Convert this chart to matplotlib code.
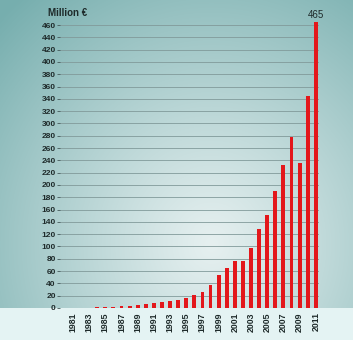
import matplotlib
matplotlib.use("Agg")
import matplotlib.pyplot as plt
import numpy as np

# Revenue per year, million euro
years = list(range(1981, 2012))
values = [0.3, 0.5, 0.8, 1.2, 1.8, 2.3, 2.8, 3.8, 5.3, 6.5,
          7.6, 10.5, 11.5, 13, 16.8, 21.5, 26.5, 38, 54, 65.5,
          77, 77, 97.5, 129, 152, 190, 232, 278, 235, 345, 465]
tick_years = years[::2]
y_ticks = list(range(0, 461, 20))

W, H = 353, 340
fig = plt.figure(figsize=(W / 100, H / 100), dpi=100)

# background: teal, darker on the left and top, lighter near the middle
bg = fig.add_axes([0, 0, 1, 1])
xx, yy = np.meshgrid(np.linspace(0, 1, W), np.linspace(0, 1, H))
d = np.sqrt(((xx - 0.6) / 0.85) ** 2 + ((yy - 0.72) / 0.95) ** 2)
d = np.clip(d, 0, 1)
dark = np.array([118, 174, 174]) / 255
light = np.array([230, 240, 240]) / 255
img = light + (dark - light) * d[..., None] ** 1.1
band = yy > 308 / H
img[band] = np.array([228, 243, 243]) / 255
bg.imshow(img, aspect="auto", extent=[0, 1, 0, 1], origin="upper")
bg.axis("off")

ax = fig.add_axes([60 / W, 32 / H, 259 / W, 289.1 / H])
ax.patch.set_alpha(0)
ax.bar(years, values, width=0.48, color="#e3171b", zorder=3)
ax.set_xlim(1979.4, 2011.4)
ax.set_ylim(0, 470)

ax.set_yticks(y_ticks)
ax.set_yticklabels([str(v) for v in y_ticks], fontsize=6, fontweight="bold",
                   color="#1e2a2a", family="Liberation Sans")
ax.set_xticks(tick_years)
ax.set_xticklabels([str(y) for y in tick_years], rotation=90, fontsize=6.3,
                   fontweight="bold", color="#1e2a2a", family="Liberation Sans")
ax.tick_params(axis="y", length=2, width=0.6, color="#44595a", pad=1)
ax.tick_params(axis="x", length=0, pad=3)
ax.grid(axis="y", color="#819a9a", linewidth=0.6, zorder=1)
for s in ax.spines.values():
    s.set_visible(False)

fig.text(48 / W, 1 - 13 / H, "Million €", fontsize=7, fontweight="bold",
         color="#1e2a2a", va="center", ha="left", family="Liberation Sans")
ax.text(years[-1], values[-1] + 4, f"{values[-1]:.0f}", fontsize=7,
        ha="center", va="bottom", color="#1e2a2a", family="Liberation Sans")

fig.savefig("out.png", dpi=100)
